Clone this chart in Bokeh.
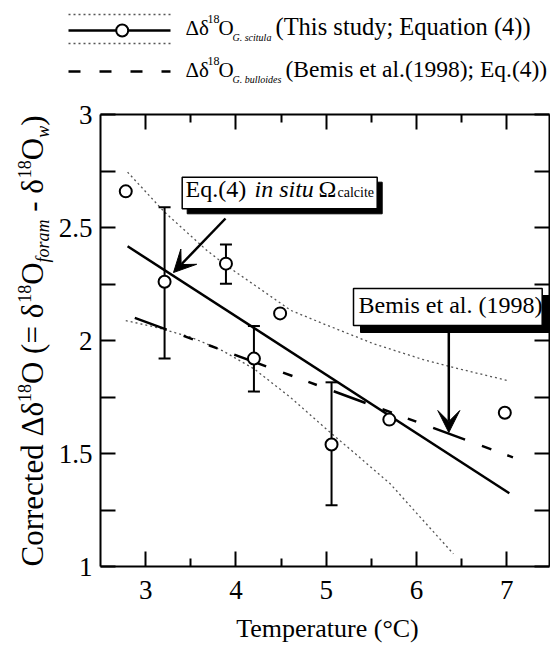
import math
from bokeh.plotting import figure
from bokeh.models import Range1d, FixedTicker, LinearAxis, Arrow, VeeHead
from bokeh.embed import file_html
from bokeh.resources import INLINE
from bokeh.core.properties import value

# ---------------- data ----------------
temp = [2.78, 3.21, 3.89, 4.20, 4.49, 5.06, 5.70, 6.98]
d18o = [2.66, 2.26, 2.34, 1.92, 2.12, 1.54, 1.65, 1.68]

err_temp = [3.21, 3.89, 4.20, 5.06]
err_mean = [2.255, 2.338, 1.919, 1.543]
err_half = [0.335, 0.087, 0.145, 0.272]

fit_temp = [2.80, 7.03]
fit_d18o = [2.417, 1.324]

bemis_temp = [2.88, 7.07]
bemis_d18o = [2.10, 1.483]

ci_upper_temp = [2.80, 3.21, 3.68, 3.90, 4.24, 4.61, 4.97, 5.53, 6.08, 6.50, 7.01]
ci_upper_d18o = [2.745, 2.568, 2.398, 2.33, 2.236, 2.133, 2.074, 1.985, 1.915, 1.872, 1.823]
ci_lower_temp = [2.78, 3.10, 3.50, 3.85, 4.20, 4.60, 4.98, 5.35, 5.71, 6.05, 6.41]
ci_lower_d18o = [2.088, 2.06, 2.015, 1.955, 1.875, 1.75, 1.616, 1.49, 1.366, 1.215, 1.056]

x_ticks = [3, 4, 5, 6, 7]
x_minor = [3.5, 4.5, 5.5, 6.5]
x_tick_labels = ["3", "4", "5", "6", "7"]
y_ticks = [1, 1.5, 2, 2.5, 3]
y_minor = [1.25, 1.75, 2.25, 2.75]
y_tick_labels = ["1", "1.5", "2", "2.5", "3"]

x_title = "Temperature (°C)"
legend_1 = "(This study; Equation (4))"
legend_2 = "(Bemis et al.(1998); Eq.(4))"
species_1 = "G. scitula"
species_2 = "G. bulloides"
box_1_texts = ["Eq.(4)", "in situ", "Ω", "calcite"]
box_2_text = "Bemis et al. (1998)"

# ---------------- layout constants (page pixels) ----------------
SERIF = "Liberation Serif"
NB = "\u00a0"
W, H = 550, 647
FR_L, FR_T, FR_R, FR_B = 100, 114, 549, 566
X0, X1, Y0, Y1 = 2.5, 7.475, 1.0, 3.0
SX = (FR_R - FR_L) / (X1 - X0)
SY = (FR_B - FR_T) / (Y1 - Y0)
K_BASE = 0.37  # observed shift of the rendered alphabetic baseline, in em


def X(px):
    return X0 + (px - FR_L) / SX


def Y(py):
    return Y1 - (py - FR_T) / SY


REG = {' ': 250, NB: 250, '(': 333, ')': 333, '.': 250, ';': 278, '=': 564, '-': 333,
       'A': 722, 'B': 667, 'C': 667, 'E': 611, 'O': 722, 'T': 611,
       'a': 444, 'c': 444, 'd': 500, 'e': 444, 'l': 278, 'm': 778, 'o': 500,
       'r': 333, 's': 389, 't': 278, 'u': 500, 'i': 278, 'n': 500, 'q': 500,
       'Δ': 612, 'δ': 500, 'Ω': 768}
ITA = {'f': 278, 'o': 500, 'r': 389, 'a': 500, 'm': 722, 'w': 667}


def tw(s, size, italic=False):
    tab = ITA if italic else REG
    return sum(tab.get(c, 500) for c in s) * size / 1000.0


# ---------------- one figure whose frame is the whole page ----------------
p = figure(width=W, height=H, x_range=Range1d(X(0), X(W)), y_range=Range1d(Y(H), Y(0)),
           output_backend="svg", toolbar_location=None, min_border=0,
           x_axis_location=None, y_axis_location=None)
p.grid.visible = False
p.outline_line_color = None
p.background_fill_color = "white"
p.border_fill_color = "white"

ax_b = LinearAxis(fixed_location=Y0, bounds=(X0, X1),
                  ticker=FixedTicker(ticks=x_ticks, minor_ticks=x_minor),
                  major_label_overrides={t: l for t, l in zip(x_ticks, x_tick_labels)})
ax_t = LinearAxis(fixed_location=Y1, bounds=(X0, X1),
                  ticker=FixedTicker(ticks=x_ticks, minor_ticks=x_minor),
                  major_label_overrides={t: "" for t in x_ticks})
ax_l = LinearAxis(fixed_location=X0, bounds=(Y0, Y1),
                  ticker=FixedTicker(ticks=y_ticks, minor_ticks=y_minor),
                  major_label_overrides={t: l for t, l in zip(y_ticks, y_tick_labels)})
ax_r = LinearAxis(fixed_location=X1, bounds=(Y0, Y1),
                  ticker=FixedTicker(ticks=y_ticks, minor_ticks=y_minor),
                  major_label_overrides={t: "" for t in y_ticks})
p.add_layout(ax_b, "below")
p.add_layout(ax_t, "above")
p.add_layout(ax_l, "left")
p.add_layout(ax_r, "right")

for ax in (ax_b, ax_t, ax_l, ax_r):
    ax.axis_line_width = 2
    ax.axis_line_color = "black"
    ax.major_tick_line_width = 2
    ax.minor_tick_line_width = 2
    ax.major_tick_in = 15
    ax.major_tick_out = 0
    ax.minor_tick_out = 0
    ax.major_label_text_font = SERIF
    ax.major_label_text_font_size = "27px"
    ax.major_label_text_color = "black"
for ax in (ax_b, ax_t):
    ax.minor_tick_in = 8
for ax in (ax_l, ax_r):
    ax.minor_tick_in = 15
ax_b.major_label_standoff = 14
ax_l.major_label_standoff = 8


def ptext(px, py, s, size, style="normal", align="left", rotated=False):
    """Place text so that its alphabetic baseline lands at page pixel (px, py)."""
    off = K_BASE * size
    if rotated:
        x, y, ang = X(px - off), Y(py), math.pi / 2
    else:
        x, y, ang = X(px), Y(py - off), 0.0
    p.text(x=[x], y=[y], text=[s], text_font=value(SERIF), text_font_size=f"{size}px",
           text_font_style=style, text_color="black", text_baseline="alphabetic",
           text_align=align, angle=ang)


# confidence curves
p.line(ci_upper_temp, ci_upper_d18o, line_color="#555555", line_width=1.3, line_dash="2 3")
p.line(ci_lower_temp, ci_lower_d18o, line_color="#555555", line_width=1.3, line_dash="2 3")
# Bemis et al. line
p.line(bemis_temp, bemis_d18o, line_color="black", line_width=2.5, line_dash="34 18 10 17 9 18")
# regression line
p.line(fit_temp, fit_d18o, line_color="black", line_width=2.5)
# error bars
lo = [m - h for m, h in zip(err_mean, err_half)]
hi = [m + h for m, h in zip(err_mean, err_half)]
p.segment(x0=err_temp, y0=lo, x1=err_temp, y1=hi, line_color="black", line_width=2)
p.scatter(x=err_temp, y=lo, marker="dash", size=12, line_color="black", line_width=2)
p.scatter(x=err_temp, y=hi, marker="dash", size=12, line_color="black", line_width=2)
# points
p.scatter(temp, d18o, marker="circle", size=12, fill_color="white", line_color="black", line_width=2)

# annotation boxes with drop shadows (page pixels)
boxes = [(181.7, 176.7, 376.7, 208.3, 5), (353, 288, 541.7, 325, 7)]
for l, t, r, b, off in boxes:
    p.quad(left=[X(l + off)], right=[X(r + off)], top=[Y(t + off)], bottom=[Y(b + off)],
           fill_color="black", line_color="black")
    p.quad(left=[X(l)], right=[X(r)], top=[Y(t)], bottom=[Y(b)],
           fill_color="white", line_color="black", line_width=1.5)

ptext(185, 197, box_1_texts[0], 24)
ptext(254, 197, box_1_texts[1], 24, "italic")
ptext(318, 197, box_1_texts[2], 24)
ptext(337, 197, box_1_texts[3], 14)
ptext(358, 313, box_2_text, 24)

# arrows
p.add_layout(Arrow(x_start=X(225), y_start=Y(218), x_end=X(173), y_end=Y(272),
                   line_width=2.5, line_color="black",
                   end=VeeHead(size=22, fill_color="black", line_color="black", line_width=1)))
p.add_layout(Arrow(x_start=X(448.3), y_start=Y(326), x_end=X(448.3), y_end=Y(432),
                   line_width=2.5, line_color="black",
                   end=VeeHead(size=22, fill_color="black", line_color="black", line_width=1)))

# x-axis title
ptext(327, 638, x_title, 26, align="center")

# rotated y-axis title built from runs
MAIN, SMALL = 31, 18
runs = [("Corrected" + NB + "Δδ", MAIN, False, 0), ("18", SMALL, False, 12),
        ("O" + NB + "(=" + NB + "δ", MAIN, False, 0), ("18", SMALL, False, 12),
        ("O", MAIN, False, 0), ("foram", SMALL, True, -6),
        (NB + "-" + NB + "δ", MAIN, False, 0), ("18", SMALL, False, 12),
        ("O", MAIN, False, 0), ("w", SMALL, True, -6), (")", MAIN, False, 0)]
base_x = 43
py = 566
for s, size, ital, shift in runs:
    ptext(base_x - shift, py, s, size, "italic" if ital else "normal", rotated=True)
    py -= tw(s, size, ital)

# ---------------- legend (page pixels) ----------------
p.line([X(68), X(170)], [Y(14), Y(14)], line_color="#555555", line_width=1.3, line_dash="2 3")
p.line([X(68), X(170)], [Y(43), Y(43)], line_color="#555555", line_width=1.3, line_dash="2 3")
p.line([X(68), X(170)], [Y(30), Y(30)], line_color="black", line_width=2.5)
p.scatter([X(121.7)], [Y(30)], marker="circle", size=12, fill_color="white",
          line_color="black", line_width=2)
p.line([X(68), X(170)], [Y(71), Y(71)], line_color="black", line_width=2.5, line_dash="12 19")

for base, sp, txt, xt, fs in [(35, species_1, legend_1, 275, 24.5), (77, species_2, legend_2, 285, 23.5)]:
    ptext(185, base, "Δδ", 21)
    ptext(207, base - 12, "18", 12)
    ptext(218, base, "O", 21)
    ptext(232, base + 6, sp, 10, "italic")
    ptext(xt, base, txt, fs)

open("out.html", "w").write(file_html(p, INLINE))
